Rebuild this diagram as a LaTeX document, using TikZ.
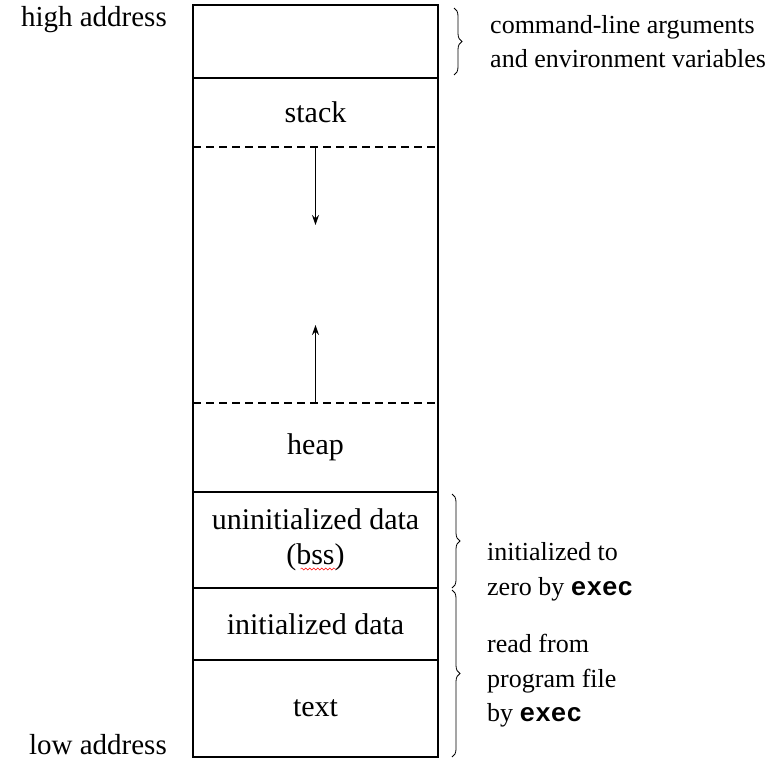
\documentclass[tikz,border=0pt]{standalone}
\usepackage{fontspec}
\setmainfont{Liberation Serif}
\setmonofont{Liberation Mono}
\usetikzlibrary{positioning,arrows.meta,decorations.pathreplacing,decorations.pathmorphing}
\begin{document}
\begin{tikzpicture}[x=1pt, y=-1pt, node distance=0pt, >={Stealth[length=10pt, width=7pt]}]
    \tikzstyle{seg}=[minimum width=245pt, inner sep=0pt, outer sep=0pt, align=center, font=\fontsize{30}{35}\selectfont]
    \tikzstyle{note}=[align=left, inner sep=0pt, font=\fontsize{26}{34.5}\selectfont]
    \tikzstyle{addr}=[inner sep=0pt, font=\fontsize{29}{34}\selectfont]
    \tikzstyle{brc}=[decorate, decoration={brace, amplitude=8pt}, line width=0.8pt]
    \tikzstyle{sep}=[line width=1.6pt]
    \newcommand{\ex}{\textbf{\texttt{exec}}}
    \useasboundingbox (0,0) rectangle (779,760);

    % memory segments, top to bottom
    \node[seg, minimum height=73pt, anchor=north west] (args) at (193,5) {};
    \node[seg, minimum height=69pt, below=of args] (stack) {stack};
    \node[seg, minimum height=256pt, below=of stack] (free) {};
    \node[seg, minimum height=89pt, below=of free] (heap) {heap};
    \node[seg, minimum height=96pt, below=of heap] (bss) {uninitialized data\\(bss)};
    \node[seg, minimum height=72pt, below=of bss] (data) {initialized data};
    \node[seg, minimum height=97pt, below=of data] (text) {text};

    % frame and separators
    \draw[sep] (args.north west) rectangle (text.south east);
    \draw[sep] (args.south west) -- (args.south east);
    \draw[sep, dashed, dash pattern=on 8pt off 5pt] (free.north west) -- (free.north east);
    \draw[sep, dashed, dash pattern=on 8pt off 5pt] (free.south west) -- (free.south east);
    \draw[sep] (heap.south west) -- (heap.south east);
    \draw[sep] (bss.south west) -- (bss.south east);
    \draw[sep] (data.south west) -- (data.south east);
    \draw[red, decorate, decoration={snake, amplitude=1pt, segment length=4pt}]
        ([xshift=-15pt, yshift=-29pt]bss.center) -- ([xshift=21pt, yshift=-29pt]bss.center);

    % growth of stack and heap
    \coordinate (sdn) at ([yshift=-78pt]free.north);
    \coordinate (hup) at ([yshift=78pt]free.south);
    \draw[->, line width=1pt] (free.north) -- (sdn);
    \draw[->, line width=1pt] (free.south) -- (hup);

    % addresses
    \node[addr, left=26pt of args.north west, yshift=-15pt] (hi) {high address};
    \node[addr, left=26pt of text.south west, yshift=12pt] (lo) {low address};

    % braces and notes
    \draw[brc] ([xshift=16pt, yshift=-3pt]args.north east) -- ([xshift=16pt, yshift=3pt]args.south east);
    \draw[brc] ([xshift=14pt, yshift=-2pt]bss.north east) -- ([xshift=14pt, yshift=0pt]bss.south east);
    \draw[brc] ([xshift=14pt, yshift=-2pt]data.north east) -- ([xshift=14pt, yshift=0pt]text.south east);
    \node[note, right=52pt of args] (envnote) {command-line arguments\\and environment variables};
    \node[note, right=49pt of bss, yshift=-32pt] (zeronote) {initialized to\\zero by \ex};
    \node[note, right=49pt of text.north east, yshift=-21pt] (readnote) {read from\\program file\\by \ex};
\end{tikzpicture}
\end{document}
